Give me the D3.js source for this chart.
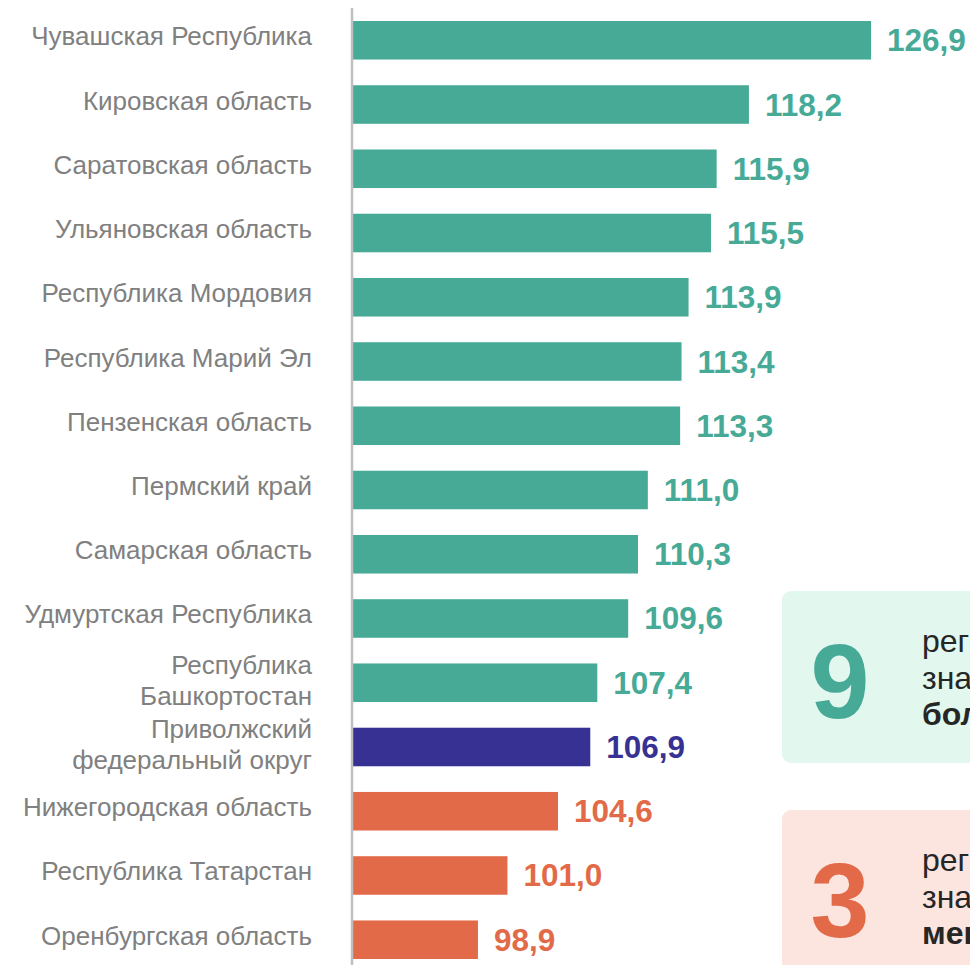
<!DOCTYPE html>
<html>
<head>
<meta charset="utf-8">
<script src="https://cdn.jsdelivr.net/npm/d3@7"></script>
<style>
  body { margin: 0; background: #fff; overflow: hidden; }
  svg { display: block; font-family: "Liberation Sans", Arial, sans-serif; }
</style>
</head>
<body>
<div class="bar-chart"></div>
<script>
const regions = [
    'Чувашская Республика',
    'Кировская область',
    'Саратовская область',
    'Ульяновская область',
    'Республика Мордовия',
    'Республика Марий Эл',
    'Пензенская область',
    'Пермский край',
    'Самарская область',
    'Удмуртская Республика',
    'Республика\nБашкортостан',
    'Приволжский\nфедеральный округ',
    'Нижегородская область',
    'Республика Татарстан',
    'Оренбургская область'
]
const values = [126.9, 118.2, 115.9, 115.5, 113.9, 113.4, 113.3, 111.0, 110.3, 109.6, 107.4, 106.9, 104.6, 101.0, 98.9]
const groups = ['above', 'above', 'above', 'above', 'above', 'above', 'above', 'above', 'above', 'above', 'above', 'district', 'below', 'below', 'below']

// boxes on the right (cut off by the window edge)
const boxCounts = [9, 3]
const boxGroups = ['above', 'below']
const boxLines = [
    ['регионов имеют', 'значение индекса', 'больше среднего'],
    ['региона имеют', 'значение индекса', 'меньше среднего']
]

const colors = {above: '#47aa97', district: '#373193', below: '#e26a48'}
const boxFill = {above: '#e2f7ee', below: '#fce4df'}

const width = 970
const height = 965

const data = regions.map((r, i) => ({region: r, value: values[i], group: groups[i]}))

const svg = d3.select(".bar-chart").append("svg")
    .attr("width", width)
    .attr("height", height)

const xScale = d3.scaleLinear()
    .domain([90, 130])
    .range([353, 353 + 40 * 14.04])

const yScale = d3.scaleBand()
    .domain(regions)
    .range([21, 959])
    .paddingInner(0.4)
    .paddingOuter(0)

// bars
svg.selectAll("rect.bar")
    .data(data)
    .join("rect")
        .attr("class", "bar")
        .attr("x", xScale(90))
        .attr("y", d => yScale(d.region))
        .attr("width", d => xScale(d.value) - xScale(90))
        .attr("height", yScale.bandwidth())
        .attr("fill", d => colors[d.group])

// axis line
svg.append("line")
    .attr("x1", xScale(90) - 1).attr("x2", xScale(90) - 1)
    .attr("y1", 8).attr("y2", height)
    .attr("stroke", "#bfbfbf")
    .attr("stroke-width", 2.5)

// value labels
svg.selectAll("text.value")
    .data(data)
    .join("text")
        .attr("class", "value")
        .attr("x", d => xScale(d.value) + 16)
        .attr("y", d => yScale(d.region) + yScale.bandwidth() / 2 + 11)
        .attr("fill", d => colors[d.group])
        .style("font-size", "31.5px")
        .style("font-weight", "bold")
        .text(d => d3.format(".1f")(d.value).replace(".", ","))

// category labels
const cat = svg.selectAll("text.cat")
    .data(data)
    .join("text")
        .attr("class", "cat")
        .attr("text-anchor", "end")
        .attr("fill", "#808080")
        .style("font-size", "26px")
        .attr("transform", d => `translate(312, ${yScale(d.region) + yScale.bandwidth() / 2 + 5})`)

cat.each(function(d) {
    const lines = d.region.split("\n")
    const off = lines.length > 1 ? -13.5 : 0
    d3.select(this).selectAll("tspan")
        .data(lines)
        .join("tspan")
            .attr("x", 0)
            .attr("y", (_, i) => off + i * 31)
            .text(l => l)
})

// summary boxes
const boxTop = [591, 810]
const box = svg.selectAll("g.box")
    .data(boxCounts)
    .join("g")
        .attr("class", "box")
        .attr("transform", (_, i) => `translate(782, ${boxTop[i]})`)

box.append("rect")
    .attr("width", 230)
    .attr("height", (_, i) => i === 0 ? 172 : 200)
    .attr("rx", 9)
    .attr("fill", (_, i) => boxFill[boxGroups[i]])

box.append("text")
    .attr("x", 58)
    .attr("y", 127)
    .attr("text-anchor", "middle")
    .attr("fill", (_, i) => colors[boxGroups[i]])
    .style("font-size", "106px")
    .style("font-weight", "bold")
    .text(d => d)

box.each(function(_, i) {
    d3.select(this).selectAll("text.line")
        .data(boxLines[i])
        .join("text")
            .attr("class", "line")
            .attr("x", 140)
            .attr("y", (_, j) => 61 + j * 36.5)
            .attr("fill", "#262626")
            .style("font-size", "32px")
            .style("font-weight", (_, j) => j === 2 ? "bold" : "normal")
            .text(l => l)
})
</script>
</body>
</html>
